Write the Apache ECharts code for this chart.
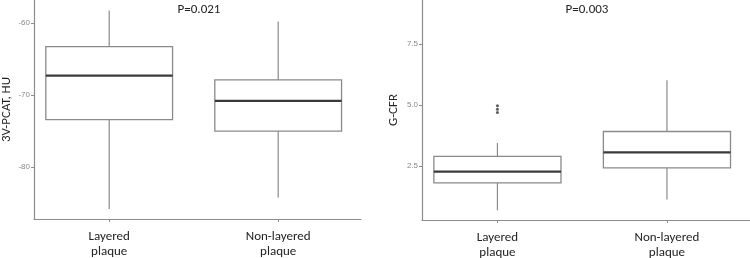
<!DOCTYPE html>
<html><head><meta charset="utf-8">
<script src="https://cdn.jsdelivr.net/npm/echarts@6/dist/echarts.min.js"></script>
<style>html,body{margin:0;padding:0;background:#fff}#c{width:750px;height:258px}</style>
</head><body><div id="c"></div>
<script>
// Categories
const categories = ["Layered\nplaque", "Non-layered\nplaque"];
// Left panel: 3V-PCAT, HU  [low, q1, median, q3, high]
const pcatBoxes = [
  [-85.8, -73.4, -67.3, -63.3, -58.3],
  [-84.2, -75.0, -70.8, -67.9, -59.8]
];
const pcatTicks = [-80, -70, -60];
const pcatP = "P=0.021";
// Right panel: G-CFR
const cfrBoxes = [
  [0.70, 1.82, 2.28, 2.90, 3.45],
  [1.14, 2.43, 3.07, 3.92, 6.02]
];
const cfrOutliers = [[1, 4.97], [1, 4.83], [1, 4.70]];
const cfrTicks = [2.5, 5.0, 7.5];
const cfrP = "P=0.003";

const FONT = "Carlito, 'Liberation Sans', sans-serif";
const TICKFONT = "'Liberation Sans', sans-serif";
const AX = '#8c8c8c';

function boxSeries(boxes, idx) {
  return {
    type: 'custom', xAxisIndex: idx, yAxisIndex: idx,
    data: boxes.map((b, i) => [i + 1].concat(b)),
    encode: { x: 0, y: [1, 2, 3, 4, 5] },
    renderItem: function (params, api) {
      const x = api.value(0);
      const lo = api.coord([x, api.value(1)]);
      const q1 = api.coord([x, api.value(2)]);
      const md = api.coord([x, api.value(3)]);
      const q3 = api.coord([x, api.value(4)]);
      const hi = api.coord([x, api.value(5)]);
      const w = api.size([0.75, 0])[0];
      const cx = md[0];
      const thin = { stroke: '#8a8a8a', lineWidth: 1.2, fill: null };
      return {
        type: 'group', children: [
          { type: 'line', shape: { x1: cx, y1: hi[1], x2: cx, y2: q3[1] }, style: thin },
          { type: 'line', shape: { x1: cx, y1: q1[1], x2: cx, y2: lo[1] }, style: thin },
          { type: 'rect', shape: { x: cx - w / 2, y: q3[1], width: w, height: q1[1] - q3[1] }, style: { stroke: '#8a8a8a', lineWidth: 1.3, fill: '#fff' } },
          { type: 'line', shape: { x1: cx - w / 2, y1: md[1], x2: cx + w / 2, y2: md[1] }, style: { stroke: '#3a3a3a', lineWidth: 2.2 } }
        ]
      };
    }
  };
}

function xAx(idx) {
  return {
    type: 'value', gridIndex: idx, min: 0.555, max: 2.49,
    splitLine: { show: false },
    axisLine: { show: true, lineStyle: { color: AX, width: 1.2 } },
    axisTick: { show: true, customValues: [1, 2], length: 3, lineStyle: { color: AX } },
    axisLabel: { customValues: [1, 2], formatter: v => categories[Math.round(v) - 1], color: '#222', fontFamily: FONT, fontSize: 13, lineHeight: 15, margin: 10 }
  };
}
function yAx(idx, min, max, ticks, name, gap, dec) {
  return {
    type: 'value', gridIndex: idx, min: min, max: max,
    name: name, nameLocation: 'middle', nameGap: gap,
    nameTextStyle: { color: '#222', fontFamily: FONT, fontSize: 13 },
    splitLine: { show: false },
    axisLine: { show: true, lineStyle: { color: AX, width: 1.2 } },
    axisTick: { show: true, customValues: ticks, length: 3, lineStyle: { color: AX } },
    axisLabel: { customValues: ticks, formatter: v => v.toFixed(dec), color: '#888', fontFamily: TICKFONT, fontSize: 8, margin: 4 }
  };
}

const chart = echarts.init(document.getElementById('c'), null, { renderer: 'canvas' });
chart.setOption({
  animation: false,
  title: [
    { text: pcatP, left: 194, top: -2, textAlign: 'center', textStyle: { fontFamily: FONT, fontSize: 13, fontWeight: 'normal', color: '#222' } },
    { text: cfrP, left: 582, top: -2, textAlign: 'center', textStyle: { fontFamily: FONT, fontSize: 13, fontWeight: 'normal', color: '#222' } }
  ],
  grid: [
    { left: 34, top: 0, width: 327, bottom: 39, outerBoundsMode: 'none', containLabel: false },
    { left: 422, top: 0, right: 0, bottom: 38, outerBoundsMode: 'none', containLabel: false }
  ],
  xAxis: [xAx(0), xAx(1)],
  yAxis: [
    yAx(0, -87.17, -56.83, pcatTicks, '3V-PCAT, HU', 21, 0),
    yAx(1, 0.30, 9.30, cfrTicks, 'G-CFR', 22, 1)
  ],
  series: [
    boxSeries(pcatBoxes, 0),
    boxSeries(cfrBoxes, 1),
    { type: 'scatter', xAxisIndex: 1, yAxisIndex: 1, data: cfrOutliers, symbolSize: 3, itemStyle: { color: '#333' } }
  ]
});
</script></body></html>
